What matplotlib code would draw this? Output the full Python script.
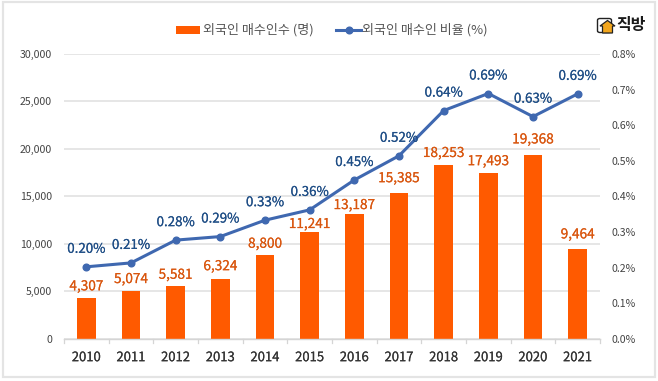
import matplotlib
matplotlib.use("Agg")
import matplotlib.pyplot as plt
import matplotlib.patheffects as pe
from matplotlib.patches import Rectangle, FancyBboxPatch, Polygon
from matplotlib.lines import Line2D

plt.rcParams['font.family'] = ['Noto Sans CJK KR', 'DejaVu Sans']

years = ["2010", "2011", "2012", "2013", "2014", "2015", "2016", "2017", "2018", "2019", "2020", "2021"]
buyers = [4307, 5074, 5581, 6324, 8800, 11241, 13187, 15385, 18253, 17493, 19368, 9464]
ratio = [0.202, 0.213, 0.277, 0.287, 0.333, 0.362, 0.446, 0.514, 0.641, 0.689, 0.624, 0.688]
ratio_labels = ["0.20%", "0.21%", "0.28%", "0.29%", "0.33%", "0.36%", "0.45%", "0.52%", "0.64%", "0.69%", "0.63%", "0.69%"]
left_ticks = [0, 5000, 10000, 15000, 20000, 25000, 30000]
right_ticks = [0.0, 0.1, 0.2, 0.3, 0.4, 0.5, 0.6, 0.7, 0.8]

# label gap above each bar, in px
bar_gaps = [11.5, 11.5, 11, 12.5, 11.5, 8, 8.5, 14.5, 12.5, 11.5, 15.5, 14.5]

orange = "#FF5A00"
orange_text = "#D9560F"
blue = "#3F68B0"
blue_text = "#1F4E86"
grey_text = "#444444"
grid_col = "#E2E2E2"

W, H = 658, 381
fig = plt.figure(figsize=(W / 100, H / 100), dpi=100)
ax = fig.add_axes([64 / W, 1 - 338.7 / H, 536 / W, 284.7 / H])


def thicken(color):
    # the reference text is semi-bold, the font only has regular and bold here
    return [pe.withStroke(linewidth=0.1, foreground=color)]


# outer frame of the picture
fig.add_artist(Rectangle((2.5 / W, 1 - 377 / H), 652.5 / W, 375 / H, fill=False,
                         edgecolor="#E4E4E4", linewidth=1.6, transform=fig.transFigure))

x = list(range(len(years)))
ax.bar(x, buyers, width=0.42, color=orange, zorder=2)
ax.set_xlim(-0.5, 11.5)
ax.set_ylim(0, 30000)
ax.set_yticks(left_ticks)
ax.set_yticklabels([f"{v:,}" for v in left_ticks], fontsize=7.6, color=grey_text)
ax.set_xticks(x)
ax.set_xticklabels(years, fontsize=9.4, color="#333333", path_effects=thicken("#333333"))
ax.grid(axis="y", color=grid_col, linewidth=1.2, zorder=0)
ax.set_axisbelow(True)
ax.tick_params(axis="y", length=0, pad=8.6)
ax.tick_params(axis="x", length=0, pad=9)
for s in ["top", "left", "right"]:
    ax.spines[s].set_visible(False)
ax.spines["bottom"].set_color("#D5D5D5")
ax.spines["bottom"].set_linewidth(1.0)

# small separators under the category axis
for b in range(len(years) + 1):
    ax.plot([b - 0.5, b - 0.5], [0, -0.0135], transform=ax.get_xaxis_transform(),
            color="#D5D5D5", linewidth=0.9, clip_on=False)

for i, v in enumerate(buyers):
    ax.annotate(f"{v:,}", (i, v), xytext=(0, bar_gaps[i] * 0.72), textcoords="offset points",
                ha="center", va="center", fontsize=9.8, color=orange_text, zorder=5,
                path_effects=thicken(orange_text))

ax2 = ax.twinx()
ax2.plot(x, ratio, color=blue, linewidth=2.2, marker="o", markersize=4.8, zorder=4)
ax2.set_ylim(0, 0.8)
ax2.set_yticks(right_ticks)
ax2.set_yticklabels([f"{v:.1f}%" for v in right_ticks], fontsize=7.6, color=grey_text)
ax2.tick_params(axis="y", length=0, pad=8)
for s in ax2.spines.values():
    s.set_visible(False)

for i, v in enumerate(ratio):
    ax2.annotate(ratio_labels[i], (i, v), xytext=(0, 18 * 0.72), textcoords="offset points",
                 ha="center", va="center", fontsize=9.6, color=blue_text, zorder=5,
                 path_effects=thicken(blue_text))

# legend
fig.add_artist(Rectangle((176 / W, 1 - 33.5 / H), 24 / W, 7.5 / H, facecolor=orange,
                         edgecolor="none", transform=fig.transFigure))
fig.text(203 / W, 1 - 29.5 / H, "외국인 매수인수 (명)", fontsize=9.4, color="#555555", va="center", ha="left")
fig.add_artist(Line2D([336 / W, 361 / W], [1 - 29.5 / H] * 2, color=blue, linewidth=2.2,
                      transform=fig.transFigure))
fig.add_artist(Line2D([348.5 / W], [1 - 29.5 / H], color=blue, marker="o", markersize=4.8,
                      transform=fig.transFigure))
fig.text(362 / W, 1 - 29.5 / H, "외국인 매수인 비율 (%)", fontsize=9.4, color="#555555", va="center", ha="left")

# logo
fig.add_artist(FancyBboxPatch((597.5 / W, 1 - 32.5 / H), 14 / W, 14 / H, boxstyle="round,pad=0,rounding_size=0.004",
                              facecolor="white", edgecolor="#222222", linewidth=1.0, transform=fig.transFigure))
fig.add_artist(Polygon([(600 / W, 1 - 26 / H), (607.5 / W, 1 - 20.5 / H), (615 / W, 1 - 26 / H),
                        (612.5 / W, 1 - 26 / H), (612.5 / W, 1 - 33 / H), (602.5 / W, 1 - 33 / H),
                        (602.5 / W, 1 - 26 / H)], closed=True, facecolor="#F2A61D", edgecolor="#222222",
                       linewidth=0.9, transform=fig.transFigure))
fig.text(631.5 / W, 1 - 25 / H, "직방", fontsize=11.5, fontweight="bold", color="#1A1A1A", ha="center", va="center")

fig.savefig("out.png", dpi=100)
